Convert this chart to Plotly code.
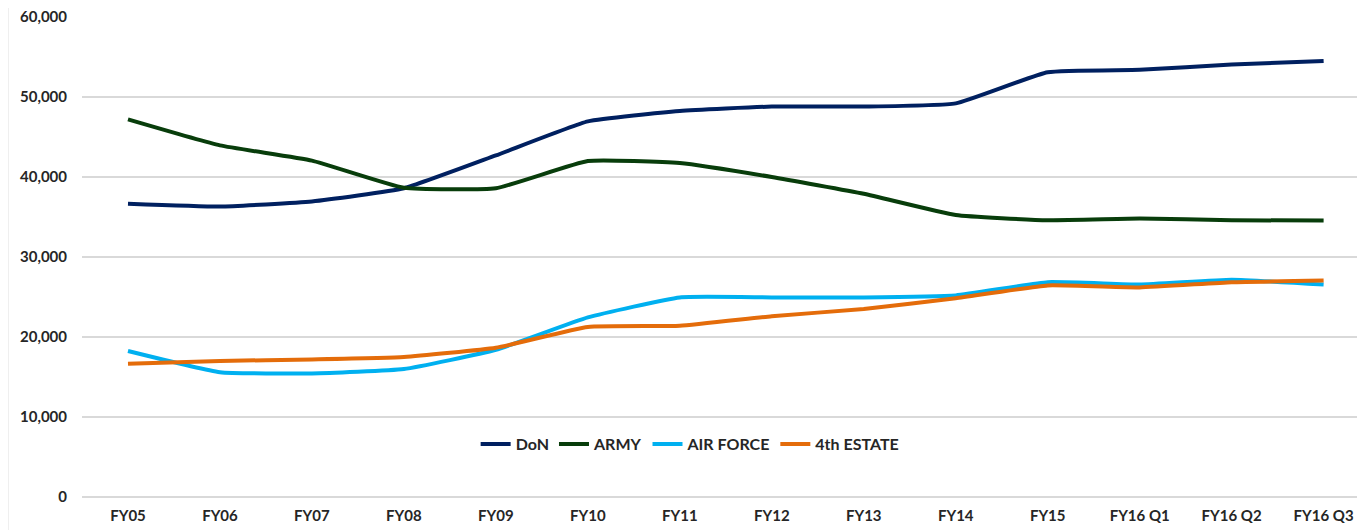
import plotly.graph_objects as go

categories = ["FY05", "FY06", "FY07", "FY08", "FY09", "FY10", "FY11", "FY12",
              "FY13", "FY14", "FY15", "FY16 Q1", "FY16 Q2", "FY16 Q3"]

don = [36650, 36300, 36950, 38600, 42700, 46950, 48250, 48800, 48800, 49200,
       53100, 53400, 54050, 54500]
army = [47200, 43950, 42050, 38650, 38600, 42000, 41750, 40000, 37900, 35250,
        34600, 34800, 34600, 34550]
air_force = [18250, 15600, 15450, 16000, 18400, 22450, 24950, 24950, 24950, 25200,
             26850, 26550, 27150, 26550]
fourth_estate = [16650, 17000, 17200, 17500, 18650, 21250, 21400, 22600, 23500, 24850,
                 26450, 26200, 26850, 27050]

series = [
    ("DoN", don, "#002060"),
    ("ARMY", army, "#083d0b"),
    ("AIR FORCE", air_force, "#00b0f0"),
    ("4th ESTATE", fourth_estate, "#e46c0a"),
]

font_family = "Lato, 'Open Sans', sans-serif"

fig = go.Figure()
for name, vals, color in series:
    fig.add_trace(go.Scatter(
        x=categories, y=vals, name=name, mode="lines",
        line=dict(color=color, width=4, shape="spline", smoothing=0.4),
    ))

fig.update_layout(
    width=1357, height=522,
    margin=dict(l=74, r=0, t=9, b=33),
    paper_bgcolor="white", plot_bgcolor="white",
    font=dict(family=font_family, size=15, color="#262626"),
    showlegend=True,
    legend=dict(
        orientation="h", x=0.474, y=0.11, xanchor="center", yanchor="middle",
        font=dict(family=font_family, size=16, color="#262626", weight="bold"),
        bgcolor="rgba(0,0,0,0)", itemwidth=30, tracegroupgap=0,
    ),
    xaxis=dict(
        type="category", range=[-0.5, 13.45], showgrid=False,
        showline=False, zeroline=False, ticks="", automargin=False,
        tickfont=dict(family=font_family, size=15, color="#262626", weight="bold"),
        ticklabelstandoff=8, ticklabeloverflow="allow",
    ),
    yaxis=dict(
        range=[0, 60000], dtick=10000, tickformat=",d", automargin=False,
        showgrid=True, gridcolor="#d9d9d9", gridwidth=1.5,
        zeroline=True, zerolinecolor="#d9d9d9", zerolinewidth=2,
        showline=False, ticks="",
        tickfont=dict(family=font_family, size=15, color="#262626", weight="bold"),
        ticklabelstandoff=14, ticklabeloverflow="allow",
    ),
    shapes=[dict(type="line", xref="paper", yref="paper",
                 x0=-0.058, x1=-0.058, y0=-0.07, y1=1.03,
                 line=dict(color="#d0d0d0", width=1.5))],
)

fig.write_html("out.html")
